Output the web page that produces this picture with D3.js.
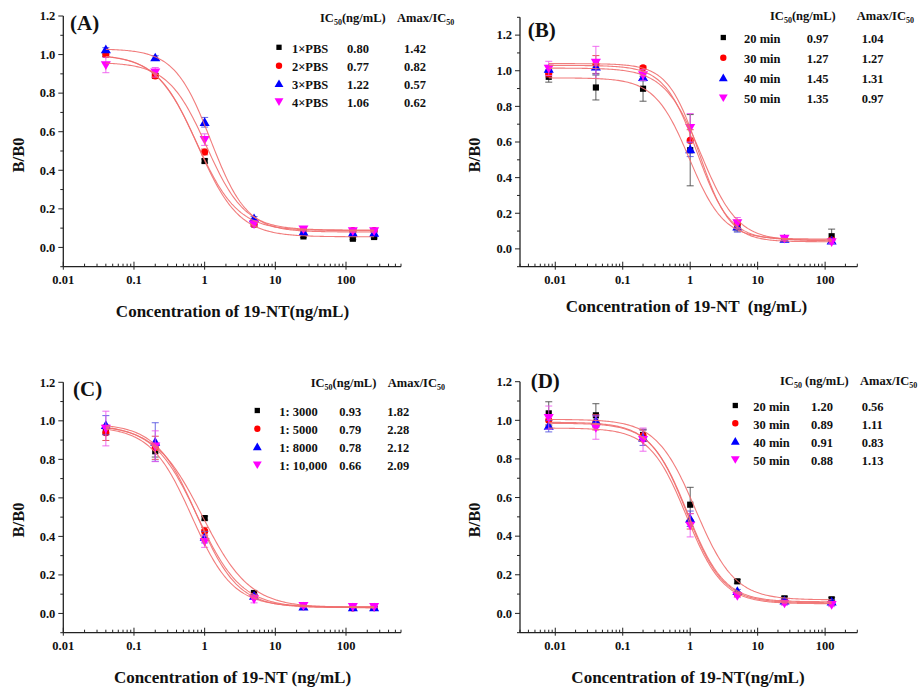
<!DOCTYPE html>
<html>
<head>
<meta charset="utf-8">
<script src="https://cdn.jsdelivr.net/npm/d3@7"></script>
<style>
  html, body { margin: 0; padding: 0; background: #fff; }
  svg { display: block; }
  text { font-family: "Liberation Serif", "Times New Roman", serif; font-weight: bold; fill: #111; }
</style>
</head>
<body>
<svg id="fig" width="919" height="688"></svg>
<script>
// ---- Concentrations (ng/mL) ----
const concAC = [0.04, 0.2, 1, 5, 25, 125, 250];
const concBD = [0.008, 0.04, 0.2, 1, 5, 25, 125];

// ---- Panel A: buffer strength ----
const namesA = ["1×PBS", "2×PBS", "3×PBS", "4×PBS"];
const ic50A = [0.80, 0.77, 1.22, 1.06];
const amaxA = [1.42, 0.82, 0.57, 0.62];
const valuesA = [
  [1.00, 0.89, 0.448, 0.120, 0.057, 0.045, 0.054],
  [1.00, 0.889, 0.495, 0.120, 0.092, 0.087, 0.087],
  [1.026, 0.984, 0.649, 0.150, 0.080, 0.074, 0.074],
  [0.946, 0.908, 0.559, 0.121, 0.095, 0.085, 0.085]
];
const errorsA = [
  [0.01, 0.01, 0.01, 0.01, 0.005, 0.005, 0.005],
  [0.01, 0.01, 0.015, 0.01, 0.005, 0.005, 0.005],
  [0.01, 0.01, 0.025, 0.01, 0.005, 0.005, 0.005],
  [0.04, 0.025, 0.03, 0.01, 0.005, 0.005, 0.005]
];
const topA = [1.00, 1.00, 1.03, 0.96];
const bottomA = [0.055, 0.087, 0.08, 0.09];
const slopeA = [1.5, 1.5, 1.7, 1.6];

// ---- Panel B: incubation time ----
const namesB = ["20 min", "30 min", "40 min", "50 min"];
const ic50B = [0.97, 1.27, 1.45, 1.35];
const amaxB = [1.04, 1.27, 1.31, 0.97];
const valuesB = [
  [0.966, 0.906, 0.899, 0.554, 0.130, 0.056, 0.071],
  [0.985, 1.035, 1.017, 0.609, 0.140, 0.060, 0.050],
  [1.010, 1.022, 0.963, 0.558, 0.124, 0.055, 0.045],
  [1.013, 1.047, 0.976, 0.680, 0.146, 0.058, 0.039]
];
const errorsB = [
  [0.03, 0.07, 0.07, 0.20, 0.03, 0.01, 0.04],
  [0.02, 0.05, 0.01, 0.06, 0.02, 0.01, 0.01],
  [0.02, 0.04, 0.02, 0.04, 0.03, 0.01, 0.01],
  [0.04, 0.09, 0.03, 0.08, 0.03, 0.01, 0.01]
];
const topB = [0.96, 1.03, 1.015, 1.04];
const bottomB = [0.055, 0.05, 0.045, 0.04];
const slopeB = [1.7, 1.8, 1.6, 1.9];

// ---- Panel C: antibody dilution ----
const namesC = ["1: 3000", "1: 5000", "1: 8000", "1: 10,000"];
const ic50C = [0.93, 0.79, 0.78, 0.66];
const amaxC = [1.82, 2.28, 2.12, 2.09];
const valuesC = [
  [0.950, 0.842, 0.495, 0.106, 0.035, 0.030, 0.030],
  [0.938, 0.860, 0.427, 0.090, 0.035, 0.028, 0.030],
  [0.977, 0.890, 0.396, 0.090, 0.035, 0.030, 0.030],
  [0.960, 0.868, 0.373, 0.075, 0.040, 0.035, 0.035]
];
const errorsC = [
  [0.02, 0.03, 0.01, 0.01, 0.005, 0.005, 0.005],
  [0.04, 0.06, 0.02, 0.01, 0.005, 0.005, 0.005],
  [0.05, 0.10, 0.03, 0.01, 0.005, 0.005, 0.005],
  [0.09, 0.08, 0.03, 0.02, 0.01, 0.005, 0.005]
];
const topC = [0.98, 0.98, 0.985, 0.97];
const bottomC = [0.03, 0.03, 0.03, 0.035];
const slopeC = [1.3, 1.4, 1.5, 1.5];

// ---- Panel D: incubation time ----
const namesD = ["20 min", "30 min", "40 min", "50 min"];
const ic50D = [1.20, 0.89, 0.91, 0.88];
const amaxD = [0.56, 1.11, 0.83, 1.13];
const valuesD = [
  [1.036, 1.026, 0.924, 0.563, 0.166, 0.078, 0.073],
  [1.000, 0.990, 0.920, 0.477, 0.100, 0.060, 0.055],
  [0.970, 0.996, 0.910, 0.490, 0.114, 0.065, 0.060],
  [1.014, 0.962, 0.900, 0.456, 0.092, 0.052, 0.045]
];
const errorsD = [
  [0.06, 0.06, 0.03, 0.09, 0.01, 0.01, 0.01],
  [0.03, 0.04, 0.03, 0.04, 0.01, 0.01, 0.01],
  [0.03, 0.03, 0.04, 0.04, 0.01, 0.01, 0.01],
  [0.06, 0.06, 0.06, 0.06, 0.01, 0.01, 0.01]
];
const topD = [1.005, 0.99, 0.985, 0.96];
const bottomD = [0.07, 0.055, 0.06, 0.05];
const slopeD = [1.5, 1.6, 1.6, 1.6];

// ---- Axis tick labels ----
const xTickLabelsAC = ["0.01", "0.1", "1", "10", "100"];
const xTickLabelsBD = ["0.01", "0.1", "1", "10", "100"];
const yTickLabels = ["0.0", "0.2", "0.4", "0.6", "0.8", "1.0", "1.2"];

// ---- Series styling ----
const markerColors = ["#000000", "#ff0000", "#0000ff", "#ff00ff"];
const errColors = ["#444444", "#e23a3a", "#5050e0", "#ee55ee"];
const markerShapes = ["square", "circle", "triangle", "triangleDown"];
const curveColor = "#ef6e6e";

// ---- Panel layout ----
const panels = [
  { tag: "(A)", conc: concAC, names: namesA, ic50: ic50A, amax: amaxA, vals: valuesA, errs: errorsA,
    top: topA, bottom: bottomA, slope: slopeA, xTicks: xTickLabelsAC,
    xDomain: [0.01, 600], yDomain: [-0.1, 1.2], left: 63.3, right: 401, yTopPx: 16, yBotPx: 266.7,
    tagX: 70, tagY: 30, xLabel: "Concentration of 19-NT(ng/mL)", xLabelX: 232.5, xLabelY: 316.5,
    yLabelX: 24, yLabelY: 155, headY: 22, headSpace: "",
    leg: { sym: 279, name: 292, ic: 347, am: 404, rows: [48.3, 66.7, 84.7, 102.7], headIc: 320, headAm: 397 } },
  { tag: "(B)", conc: concBD, names: namesB, ic50: ic50B, amax: amaxB, vals: valuesB, errs: errorsB,
    top: topB, bottom: bottomB, slope: slopeB, xTicks: xTickLabelsBD,
    xDomain: [0.003, 300], yDomain: [-0.1, 1.3], left: 520, right: 857.3, yTopPx: 17.3, yBotPx: 266.7,
    tagX: 527.7, tagY: 36.5, xLabel: "Concentration of 19-NT  (ng/mL)", xLabelX: 686.5, xLabelY: 311.5,
    yLabelX: 480, yLabelY: 155, headY: 19.5, headSpace: "",
    leg: { sym: 723.3, name: 744, ic: 806.7, am: 861.7, rows: [38.5, 58.8, 78.8, 98.8], headIc: 770, headAm: 856.7 } },
  { tag: "(C)", conc: concAC, names: namesC, ic50: ic50C, amax: amaxC, vals: valuesC, errs: errorsC,
    top: topC, bottom: bottomC, slope: slopeC, xTicks: xTickLabelsAC,
    xDomain: [0.01, 600], yDomain: [-0.1, 1.2], left: 63.3, right: 401, yTopPx: 382.3, yBotPx: 632.7,
    tagX: 73, tagY: 396, xLabel: "Concentration of 19-NT (ng/mL)", xLabelX: 232.5, xLabelY: 682.5,
    yLabelX: 24, yLabelY: 520, headY: 387, headSpace: "",
    leg: { sym: 257.3, name: 279.3, ic: 339.3, am: 387.3, rows: [411.5, 429.8, 447.8, 465.8], headIc: 310.7, headAm: 387.7 } },
  { tag: "(D)", conc: concBD, names: namesD, ic50: ic50D, amax: amaxD, vals: valuesD, errs: errorsD,
    top: topD, bottom: bottomD, slope: slopeD, xTicks: xTickLabelsBD,
    xDomain: [0.003, 300], yDomain: [-0.1, 1.2], left: 520, right: 857.3, yTopPx: 381.7, yBotPx: 632.7,
    tagX: 530.7, tagY: 388, xLabel: "Concentration of 19-NT(ng/mL)", xLabelX: 688, xLabelY: 682.5,
    yLabelX: 480, yLabelY: 520, headY: 385, headSpace: " ",
    leg: { sym: 735.3, name: 753.3, ic: 811, am: 861.7, rows: [406.5, 424.3, 442.3, 460.5], headIc: 780, headAm: 860 } }
];

const svg = d3.select("#fig");

// four-parameter logistic fit
function logistic4(x, top, bottom, c, b) {
  return bottom + (top - bottom) / (1 + Math.pow(x / c, b));
}

function markerPath(shape, size) {
  const types = { square: d3.symbolSquare, circle: d3.symbolCircle, triangle: d3.symbolTriangle, triangleDown: d3.symbolTriangle };
  return d3.symbol().type(types[shape]).size(size)();
}

function drawMarker(g, shape, cx, cy, size, color) {
  const rot = shape === "triangleDown" ? " rotate(180)" : "";
  const dy = shape === "triangle" ? 0.8 : shape === "triangleDown" ? -0.8 : 0;
  g.append("path")
    .attr("d", markerPath(shape, size))
    .attr("transform", `translate(${cx},${cy + dy})${rot}`)
    .attr("fill", color);
}

panels.forEach(p => {
  const g = svg.append("g");
  const x = d3.scaleLog().domain(p.xDomain).range([p.left, p.right]);
  const y = d3.scaleLinear().domain(p.yDomain).range([p.yBotPx, p.yTopPx]);
  const axisY = p.yBotPx;

  // x axis: line, decade ticks and minor ticks pointing inward
  g.append("line").attr("x1", p.left).attr("x2", p.right).attr("y1", axisY).attr("y2", axisY)
    .attr("stroke", "#222").attr("stroke-width", 1.3);
  const lo = Math.floor(Math.log10(p.xDomain[0])), hi = Math.ceil(Math.log10(p.xDomain[1]));
  for (let e = lo; e <= hi; e++) {
    for (let k = 1; k <= 9; k++) {
      const v = k * Math.pow(10, e);
      if (v < p.xDomain[0] * 0.999 || v > p.xDomain[1] * 1.001) continue;
      const len = k === 1 ? 5 : 3;
      g.append("line").attr("x1", x(v)).attr("x2", x(v)).attr("y1", axisY).attr("y2", axisY - len)
        .attr("stroke", "#222").attr("stroke-width", 1);
    }
  }
  const decades = [0.01, 0.1, 1, 10, 100];
  decades.forEach((v, i) => {
    g.append("line").attr("x1", x(v)).attr("x2", x(v)).attr("y1", axisY).attr("y2", axisY + 3)
      .attr("stroke", "#222").attr("stroke-width", 1);
    g.append("text").attr("x", x(v)).attr("y", axisY + 17.5).attr("text-anchor", "middle")
      .attr("font-size", 12.5).text(p.xTicks[i]);
  });

  // y axis: line, major and minor ticks pointing outward
  g.append("line").attr("x1", p.left).attr("x2", p.left).attr("y1", p.yBotPx).attr("y2", p.yTopPx)
    .attr("stroke", "#222").attr("stroke-width", 1.3);
  for (let t = -0.1; t <= p.yDomain[1] + 1e-6; t += 0.1) {
    const tr = Math.round(t * 10) / 10;
    const major = Math.abs(Math.round(tr * 10) % 2) === 0;
    g.append("line").attr("x1", p.left - (major ? 5 : 3)).attr("x2", p.left).attr("y1", y(tr)).attr("y2", y(tr))
      .attr("stroke", "#222").attr("stroke-width", 1);
  }
  yTickLabels.forEach((lab, i) => {
    const v = i * 0.2;
    g.append("text").attr("x", p.left - 8).attr("y", y(v) + 4.3).attr("text-anchor", "end")
      .attr("font-size", 12.5).text(lab);
  });

  // axis titles and panel tag
  g.append("text").attr("x", p.xLabelX).attr("y", p.xLabelY).attr("text-anchor", "middle")
    .attr("font-size", 17).attr("xml:space", "preserve").style("white-space", "pre").text(p.xLabel);
  g.append("text").attr("transform", `translate(${p.yLabelX},${p.yLabelY}) rotate(-90)`)
    .attr("text-anchor", "middle").attr("font-size", 16.5).text("B/B0");
  g.append("text").attr("x", p.tagX).attr("y", p.tagY).attr("font-size", 21).text(p.tag);

  // error bars and markers
  p.vals.forEach((vals, s) => {
    vals.forEach((v, i) => {
      const e = p.errs[s][i];
      const cx = x(p.conc[i]);
      const y1 = y(v - e), y2 = y(v + e);
      g.append("line").attr("x1", cx).attr("x2", cx).attr("y1", y1).attr("y2", y2)
        .attr("stroke", errColors[s]).attr("stroke-width", 1).attr("opacity", 0.85);
      [y1, y2].forEach(yy => g.append("line").attr("x1", cx - 3.5).attr("x2", cx + 3.5).attr("y1", yy).attr("y2", yy)
        .attr("stroke", errColors[s]).attr("stroke-width", 1).attr("opacity", 0.85));
    });
    vals.forEach((v, i) => {
      const size = markerShapes[s] === "circle" ? 40 : markerShapes[s] === "square" ? 38 : 44;
      drawMarker(g, markerShapes[s], x(p.conc[i]), y(v), size, markerColors[s]);
    });
  });

  // fitted logistic curves
  const x0 = Math.log10(p.conc[0]), x1 = Math.log10(p.conc[p.conc.length - 1]);
  const samples = d3.range(0, 201).map(j => Math.pow(10, x0 + (x1 - x0) * j / 200));
  const line = d3.line().x(d => x(d[0])).y(d => y(d[1])).curve(d3.curveLinear);
  p.ic50.forEach((c, s) => {
    const pts = samples.map(xv => [xv, logistic4(xv, p.top[s], p.bottom[s], c, p.slope[s])]);
    g.append("path").attr("d", line(pts)).attr("fill", "none")
      .attr("stroke", curveColor).attr("stroke-width", 1.1).attr("opacity", 0.9);
  });

  // legend table
  const L = p.leg;
  const hIc = g.append("text").attr("x", L.headIc).attr("y", p.headY).attr("font-size", 12.5);
  hIc.append("tspan").text("IC");
  hIc.append("tspan").attr("font-size", 8).attr("dy", 3).text("50");
  hIc.append("tspan").attr("dy", -3).text(p.headSpace + "(ng/mL)");
  const hAm = g.append("text").attr("x", L.headAm).attr("y", p.headY).attr("font-size", 12.5);
  hAm.append("tspan").text("Amax/IC");
  hAm.append("tspan").attr("font-size", 8).attr("dy", 3).text("50");

  p.names.forEach((nm, s) => {
    const ry = L.rows[s];
    const size = markerShapes[s] === "circle" ? 32 : markerShapes[s] === "square" ? 28 : 34;
    drawMarker(g, markerShapes[s], L.sym, ry - 1, size, markerColors[s]);
    g.append("text").attr("x", L.name).attr("y", ry + 4.3).attr("font-size", 12.5).text(nm);
    g.append("text").attr("x", L.ic).attr("y", ry + 4.3).attr("font-size", 12.5).text(p.ic50[s].toFixed(2));
    g.append("text").attr("x", L.am).attr("y", ry + 4.3).attr("font-size", 12.5).text(p.amax[s].toFixed(2));
  });
});
</script>
</body>
</html>
